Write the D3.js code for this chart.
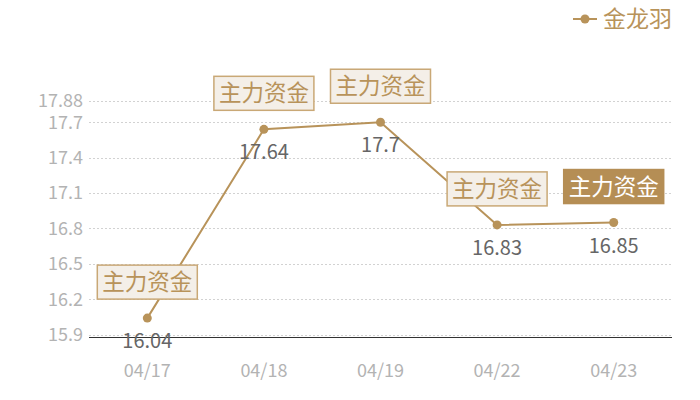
<!DOCTYPE html>
<html>
<head>
<meta charset="utf-8">
<script src="https://d3js.org/d3.v7.min.js"></script>
<style>
body { margin: 0; background: #fff; }
svg text { font-family: "Noto Sans CJK SC", "Noto Sans", sans-serif; }
</style>
</head>
<body>
<div id="chart"></div>
<script>
// données
const dates = ["04/17", "04/18", "04/19", "04/22", "04/23"];
const prices = [16.04, 17.64, 17.7, 16.83, 16.85];
const yTicks = [15.9, 16.2, 16.5, 16.8, 17.1, 17.4, 17.7, 17.88];
const seriesName = "金龙羽";
const flagText = "主力资金";
const flagActive = [false, false, false, false, true];

const width = 700, height = 400;
const gold = "#b8935a";

const svg = d3.select("#chart").append("svg")
    .attr("width", width)
    .attr("height", height);

const x = d3.scaleBand()
    .domain(dates)
    .range([89, 672]);

const y = d3.scaleLinear()
    .domain([15.88, 17.88])
    .range([337, 101]);

const cx = d => x(d) + x.bandwidth() / 2;

// grille
svg.append("g")
    .selectAll("line")
    .data(yTicks).enter().append("line")
    .attr("x1", 89).attr("x2", 672)
    .attr("y1", d => Math.round(y(d)) + 0.5)
    .attr("y2", d => Math.round(y(d)) + 0.5)
    .attr("stroke", "#d2d2d2")
    .attr("stroke-dasharray", "2,2");

// axe y
const yAxis = svg.append("g")
    .attr("transform", "translate(89,0)")
    .call(d3.axisLeft(y).tickValues(yTicks).tickSize(0).tickPadding(6).tickFormat(d => String(d)));
yAxis.select(".domain").remove();
yAxis.selectAll("text")
    .attr("fill", "#b3b3b3")
    .style("font-size", "18px");

// axe x
const xAxis = svg.append("g")
    .attr("transform", "translate(0,337)")
    .call(d3.axisBottom(x).tickSize(0).tickPadding(27));
xAxis.select(".domain").attr("stroke", "#333").attr("d", "M89,0.5H672");
xAxis.selectAll("text")
    .attr("fill", "#b3b3b3")
    .style("font-size", "18px");

// courbe
const line = d3.line()
    .x((d, i) => cx(dates[i]))
    .y(d => y(d));

svg.append("path")
    .datum(prices)
    .attr("d", line)
    .attr("fill", "none")
    .attr("stroke", gold)
    .attr("stroke-width", 2);

svg.append("g")
    .selectAll("circle")
    .data(prices).enter().append("circle")
    .attr("cx", (d, i) => cx(dates[i]))
    .attr("cy", d => y(d))
    .attr("r", 4.5)
    .attr("fill", gold);

// valeurs
svg.append("g")
    .selectAll("text")
    .data(prices).enter().append("text")
    .attr("x", (d, i) => cx(dates[i]))
    .attr("y", d => y(d) + 30)
    .attr("text-anchor", "middle")
    .attr("fill", "#666")
    .style("font-size", "20px")
    .text(d => String(d));

// étiquettes "主力资金"
const flags = svg.append("g")
    .selectAll("g")
    .data(prices).enter().append("g")
    .attr("transform", (d, i) => "translate(" + cx(dates[i]) + "," + (y(d) - 19) + ")");

flags.append("rect")
    .attr("x", -50).attr("y", -34)
    .attr("width", 100).attr("height", 34)
    .attr("fill", (d, i) => flagActive[i] ? "#b58e55" : "#f4efe8")
    .attr("stroke", (d, i) => flagActive[i] ? "#b58e55" : "#c9a876")
    .attr("stroke-width", 1.5);

flags.append("text")
    .attr("x", 0).attr("y", -9)
    .attr("text-anchor", "middle")
    .attr("fill", (d, i) => flagActive[i] ? "#fff" : gold)
    .style("font-size", "22.5px")
    .text(flagText);

// légende
const leg = svg.append("g").attr("transform", "translate(573,19)");
leg.append("line")
    .attr("x1", 0).attr("x2", 24)
    .attr("stroke", gold).attr("stroke-width", 2);
leg.append("circle")
    .attr("cx", 12).attr("r", 4.5).attr("fill", gold);
leg.append("text")
    .attr("x", 30).attr("y", 8)
    .attr("fill", gold)
    .style("font-size", "23px")
    .text(seriesName);
</script>
</body>
</html>
